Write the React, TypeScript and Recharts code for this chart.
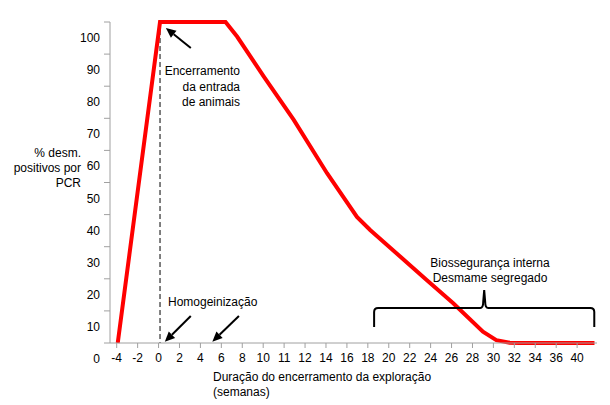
import React from "react";
import { LineChart, Line, XAxis, YAxis, ReferenceLine } from "recharts";

// x-axis category labels, in the order they appear under the axis
const weekLabels = ["-4", "-2", "0", "2", "4", "6", "8", "10", "11", "12", "14", "16", "18", "20", "22", "24", "26", "28", "30", "32", "34", "36", "40"];
const pctTicks = [0, 10, 20, 30, 40, 50, 60, 70, 80, 90, 100];

// curve, x given as position along the label row (0 = "-4")
const curvePos = [0.05, 2.07, 5.2, 5.76, 7.03, 8.46, 10.05, 11.48, 12.11, 13.38, 14.81, 16.08, 17.5, 18.14, 18.78, 19.25, 22.83];
const curvePct = [0, 100, 100, 95.4, 83.0, 69.5, 52.9, 39.3, 35.2, 27.9, 19.6, 12.4, 3.5, 0.9, 0.1, 0, 0];

const data = curvePos.map((pos, i) => ({ pos, pct: curvePct[i] }));

const FONT = '"Liberation Sans", Arial, sans-serif';
const AXIS = "#a0a0a0";

const XTick = (props: any) => {
  const { x, y, payload } = props;
  return (
    <text x={x} y={y} dy={12} textAnchor="middle" fontSize={12} fontFamily={FONT} fill="#000">
      {weekLabels[payload.value]}
    </text>
  );
};

const YTick = (props: any) => {
  const { x, y, payload } = props;
  // labels sit half a step below their tick mark, as in the original
  return (
    <text x={x} y={y + 16} dy={4} textAnchor="end" fontSize={12} fontFamily={FONT} fill="#000">
      {payload.value}
    </text>
  );
};

const arrowShape = (p: any) => {
  const { x1, y1, x2, y2 } = p;
  const a = Math.atan2(y2 - y1, x2 - x1);
  const L = 10;
  const W = 4.5;
  const bx = x2 - L * Math.cos(a);
  const by = y2 - L * Math.sin(a);
  const px = -Math.sin(a) * W;
  const py = Math.cos(a) * W;
  return (
    <g>
      <line x1={x1} y1={y1} x2={bx} y2={by} stroke="#000" strokeWidth={2} />
      <polygon points={`${x2},${y2} ${bx + px},${by + py} ${bx - px},${by - py}`} fill="#000" />
    </g>
  );
};

const braceShape = (p: any) => {
  const { x1, y1, x2, y2 } = p;
  const yb = y1;
  const yh = y2;
  const xm = (x1 + x2) / 2;
  const d = `M${x1},${yb} L${x1},${yh + 4} Q${x1},${yh} ${x1 + 4},${yh} L${xm - 4},${yh} Q${xm - 1},${yh} ${xm - 1},${yh - 6} L${xm},${yh - 18} L${xm + 1},${yh - 6} Q${xm + 1},${yh} ${xm + 4},${yh} L${x2 - 4},${yh} Q${x2},${yh} ${x2},${yh + 4} L${x2},${yb}`;
  return <path d={d} fill="none" stroke="#000" strokeWidth={2} />;
};

const txt: React.CSSProperties = {
  position: "absolute",
  fontFamily: FONT,
  fontSize: 12,
  lineHeight: "15px",
  color: "#000",
  whiteSpace: "nowrap",
};

export default function App() {
  return (
    <div style={{ position: "absolute", left: 0, top: 0, width: 610, height: 405, background: "#fff" }}>
      <LineChart width={610} height={405} data={data} margin={{ top: 22, right: 13, left: 50, bottom: 32 }}>
        <XAxis
          type="number"
          dataKey="pos"
          domain={[-0.32, 22.95]}
          ticks={weekLabels.map((_, i) => i)}
          interval={0}
          allowDataOverflow
          height={30}
          stroke={AXIS}
          tickSize={5}
          tickMargin={2}
          tick={<XTick />}
        />
        <YAxis
          type="number"
          domain={[0, 100]}
          ticks={pctTicks}
          interval={0}
          width={60}
          stroke={AXIS}
          tickSize={6}
          tickMargin={4}
          tick={<YTick />}
        />
        <ReferenceLine
          segment={[{ x: 2.07, y: 97.5 }, { x: 2.07, y: 0 }]}
          stroke="#000"
          strokeDasharray="5 3"
          strokeWidth={1}
        />
        <Line
          type="linear"
          dataKey="pct"
          stroke="#ff0000"
          strokeWidth={4}
          dot={false}
          isAnimationActive={false}
        />
        <ReferenceLine segment={[{ x: 3.54, y: 91.9 }, { x: 2.35, y: 98.1 }]} shape={arrowShape} />
        <ReferenceLine segment={[{ x: 3.54, y: 8.4 }, { x: 2.3, y: 0.4 }]} shape={arrowShape} />
        <ReferenceLine segment={[{ x: 5.84, y: 8.4 }, { x: 4.57, y: 0.4 }]} shape={arrowShape} />
        <ReferenceLine segment={[{ x: 12.3, y: 5.0 }, { x: 22.82, y: 10.9 }]} shape={braceShape} />
      </LineChart>

      <div style={{ ...txt, left: 0, width: 81, top: 146, textAlign: "right" }}>
        % desm.
        <br />
        positivos por
        <br />
        PCR
      </div>
      <div style={{ ...txt, left: 213, top: 370 }}>
        Duração do encerramento da exploração
        <br />
        (semanas)
      </div>
      <div style={{ ...txt, left: 120, width: 120, top: 64, textAlign: "right", lineHeight: "15.5px" }}>
        Encerramento
        <br />
        da entrada
        <br />
        de animais
      </div>
      <div style={{ ...txt, left: 168, top: 295 }}>Homogeinização</div>
      <div style={{ ...txt, left: 390, width: 200, top: 256, textAlign: "center" }}>
        Biossegurança interna
        <br />
        Desmame segregado
      </div>
    </div>
  );
}
